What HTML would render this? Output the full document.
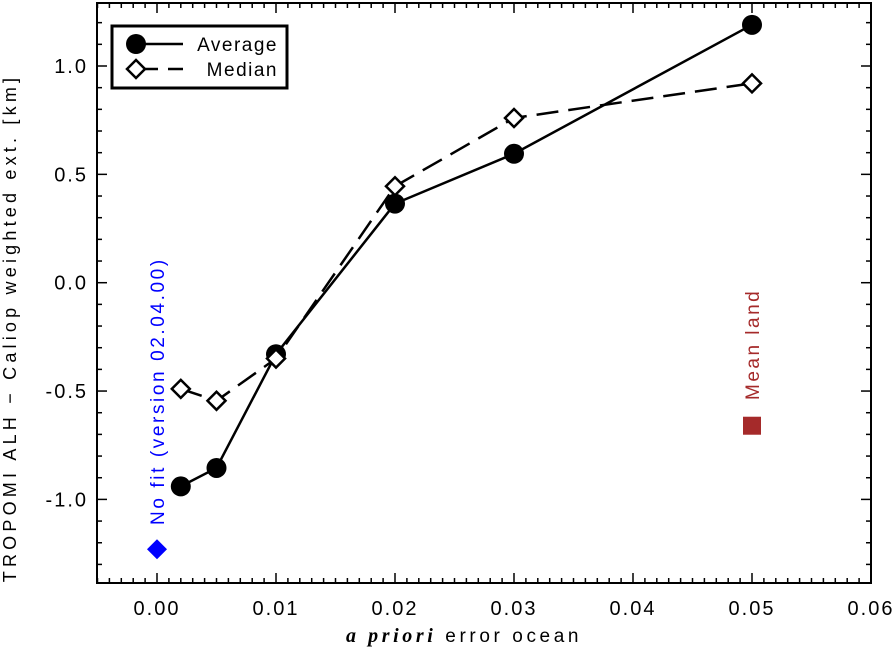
<!DOCTYPE html>
<html><head><meta charset="utf-8"><style>
body{margin:0;background:#fff;}
svg{display:block;font-family:"Liberation Sans",sans-serif;}
</style></head><body>
<svg id="c" width="894" height="650"></svg>
<script>
const xs=[0.002,0.005,0.01,0.02,0.03,0.05];
const avgVals=[-0.94,-0.855,-0.33,0.365,0.595,1.19];
const medVals=[-0.49,-0.545,-0.35,0.445,0.76,0.92];
const noFit=[0,-1.23];
const meanLand=[0.05,-0.66];
const xTicks=[0,0.01,0.02,0.03,0.04,0.05,0.06];
const xTickLabels=["0.00","0.01","0.02","0.03","0.04","0.05","0.06"];
const yTicks=[-1.0,-0.5,0.0,0.5,1.0];
const yTickLabels=["-1.0","-0.5","0.0","0.5","1.0"];
const L=97,R=871,T=3,B=583;
const X=v=>157+v*11900;
const Y=v=>66+(1.0-v)*216.7;
const s=document.getElementById('c');const NS='http://www.w3.org/2000/svg';
function mk(t,a,txt){const e=document.createElementNS(NS,t);for(const k in a)e.setAttribute(k,a[k]);if(txt!==undefined)e.textContent=txt;s.appendChild(e);return e;}
let e=mk('rect',{x:L,y:T,width:R-L,height:B-T,fill:'none',stroke:'#000','stroke-width':2});

for(let v=-0.005;v<=0.0601;v+=0.001){const x=X(v);const maj=Math.abs(v*100-Math.round(v*100))<1e-6;const len=maj?10:5;
mk('line',{x1:x,x2:x,y1:B,y2:B-len,stroke:'#000','stroke-width':1.5});mk('line',{x1:x,x2:x,y1:T,y2:T+len,stroke:'#000','stroke-width':1.5});}
for(let v=-1.4;v<=1.3001;v+=0.1){const y=Y(v);if(y<T||y>B)continue;const maj=Math.abs(v*2-Math.round(v*2))<1e-6;const len=maj?10:5;
mk('line',{x1:L,x2:L+len,y1:y,y2:y,stroke:'#000','stroke-width':1.5});mk('line',{x1:R,x2:R-len,y1:y,y2:y,stroke:'#000','stroke-width':1.5});}
xTicks.forEach((v,i)=>{e=mk('text',{x:X(v),y:615,'text-anchor':'middle','font-size':20,'letter-spacing':2},xTickLabels[i]);});
yTicks.forEach((v,i)=>{e=mk('text',{x:88,y:Y(v)+7,'text-anchor':'end','font-size':20,'letter-spacing':2},yTickLabels[i]);});
e=mk('text',{x:464,y:642,'text-anchor':'middle','font-size':19,'letter-spacing':3.6});
e.innerHTML='<tspan font-style="italic" font-weight="bold" font-family="Liberation Serif" font-size="20">a priori</tspan> error ocean';

e=mk('text',{x:0,y:0,'text-anchor':'middle','font-size':18,'letter-spacing':4.2,transform:'translate(16,328) rotate(-90)'},'TROPOMI ALH − Caliop weighted ext. [km]');

e=mk('polyline',{points:xs.map((x,i)=>X(x)+','+Y(avgVals[i])).join(' '),fill:'none',stroke:'#000','stroke-width':2.5});

e=mk('polyline',{points:xs.map((x,i)=>X(x)+','+Y(medVals[i])).join(' '),fill:'none',stroke:'#000','stroke-width':2.5,'stroke-dasharray':'22,10'});

xs.forEach((x,i)=>{e=mk('circle',{cx:X(x),cy:Y(avgVals[i]),r:10,fill:'#000'});});
function dia(cx,cy,r,fill,stroke){return mk('polygon',{points:`${cx},${cy-r} ${cx+r},${cy} ${cx},${cy+r} ${cx-r},${cy}`,fill:fill,stroke:stroke,'stroke-width':2.5});}
xs.forEach((x,i)=>{e=dia(X(x),Y(medVals[i]),9,'#fff','#000');});
e=dia(X(noFit[0]),Y(noFit[1]),10,'#0000ff','none');
e=mk('rect',{x:X(meanLand[0])-9,y:Y(meanLand[1])-9,width:18,height:18,fill:'#a52a2a'});
e=mk('text',{x:0,y:0,'font-size':19,'letter-spacing':2.6,fill:'#0000ff',transform:`translate(${X(0)+7},525) rotate(-90)`},'No fit (version 02.04.00)');

e=mk('text',{x:0,y:0,'font-size':19,'letter-spacing':2.5,fill:'#a52a2a',transform:`translate(${X(0.05)+7},400) rotate(-90)`},'Mean land');

e=mk('rect',{x:112,y:26,width:175,height:62,fill:'#fff',stroke:'#000','stroke-width':3});
mk('line',{x1:136,x2:183,y1:44,y2:44,stroke:'#000','stroke-width':2.5});
e=mk('circle',{cx:136,cy:44,r:10,fill:'#000'});
e=mk('text',{x:278,y:51,'text-anchor':'end','font-size':19,'letter-spacing':1.5},'Average');
mk('line',{x1:136,x2:183,y1:69,y2:69,stroke:'#000','stroke-width':2.5,'stroke-dasharray':'22,10'});
e=dia(136,69,9,'#fff','#000');
e=mk('text',{x:278,y:76,'text-anchor':'end','font-size':19,'letter-spacing':1.5},'Median');
</script>
</body></html>
